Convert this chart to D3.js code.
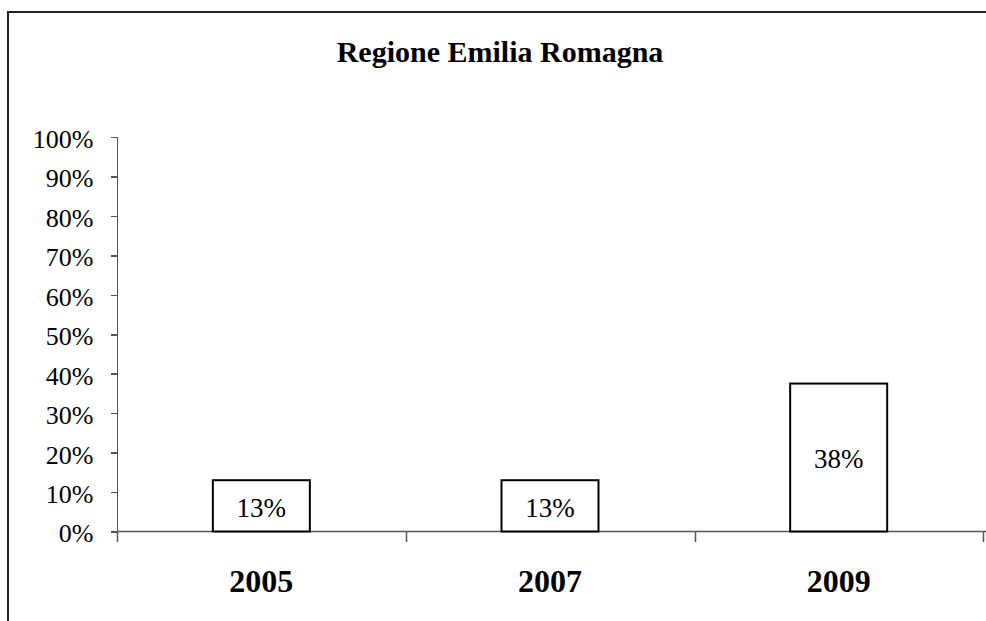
<!DOCTYPE html>
<meta charset="utf-8">
<style>
body { margin: 0; background: #fff; }
text { font-family: "Liberation Serif", "Times New Roman", serif; fill: #000; }
.axis path, .axis line { stroke: #555; stroke-width: 1.5px; shape-rendering: crispEdges; }
.bar { fill: #fff; stroke: #000; stroke-width: 2px; }
</style>
<body>
<div id="chart"></div>
<script src="https://d3js.org/d3.v7.min.js"></script>
<script>

// data
var years = ["2005", "2007", "2009"];
var values = [0.13, 0.13, 0.375];
var valueLabels = ["13%", "13%", "38%"];
var yTicks = [0, 0.1, 0.2, 0.3, 0.4, 0.5, 0.6, 0.7, 0.8, 0.9, 1];
var title = "Regione Emilia Romagna";

var W = 986, H = 621;

var svg = d3.select("#chart").append("svg")
    .attr("width", W)
    .attr("height", H);

// outer frame (runs off the right and bottom edge)
svg.append("rect")
    .attr("x", 8)
    .attr("y", 12)
    .attr("width", 1000)
    .attr("height", 700)
    .attr("fill", "none")
    .attr("stroke", "#222")
    .attr("stroke-width", 2);

var x = d3.scaleBand().domain(years).range([117, 983]).paddingInner(0.664).paddingOuter(0.332);
var y = d3.scaleLinear().domain([0, 1]).range([531.5, 137]);

// title
svg.append("text")
    .attr("x", 500)
    .attr("y", 62)
    .attr("text-anchor", "middle")
    .style("font-weight", "bold")
    .style("font-size", "30px")
    .text(title);

// y axis
var gy = svg.append("g")
    .attr("class", "axis")
    .attr("transform", "translate(117.5,0)")
    .call(d3.axisLeft(y).tickValues(yTicks).tickSize(7).tickSizeOuter(0).tickFormat(d3.format(".0%")));
gy.select(".domain").attr("d", "M0," + y(1) + "V542");
gy.selectAll(".tick text")
    .attr("x", -24)
    .attr("dy", "0.4em")
    .style("font-size", "26px")
    .style("font-family", "Liberation Serif");

// x axis: baseline + boundary ticks
var bounds = [117, 406, 695, 983];
svg.append("line")
    .attr("x1", 117).attr("x2", 986)
    .attr("y1", y(0)).attr("y2", y(0))
    .attr("stroke", "#555").attr("stroke-width", 1.5);
svg.selectAll(".xtick")
    .data(bounds)
    .enter().append("line")
    .attr("x1", function(d) { return d + 0.5; })
    .attr("x2", function(d) { return d + 0.5; })
    .attr("y1", y(0))
    .attr("y2", 542)
    .attr("stroke", "#555").attr("stroke-width", 1.5);

// bars
svg.selectAll(".bar")
    .data(values)
    .enter().append("rect")
    .attr("class", "bar")
    .attr("x", function(d, i) { return x(years[i]); })
    .attr("y", function(d) { return y(d); })
    .attr("width", x.bandwidth())
    .attr("height", function(d) { return y(0) - y(d); });

// value labels
svg.selectAll(".vlabel")
    .data(values)
    .enter().append("text")
    .attr("x", function(d, i) { return x(years[i]) + x.bandwidth() / 2; })
    .attr("y", function(d) { return (y(d) + y(0)) / 2; })
    .attr("dy", "0.4em")
    .attr("text-anchor", "middle")
    .style("font-size", "27px")
    .text(function(d, i) { return valueLabels[i]; });

// category labels
svg.selectAll(".clabel")
    .data(years)
    .enter().append("text")
    .attr("x", function(d) { return x(d) + x.bandwidth() / 2; })
    .attr("y", 592)
    .attr("text-anchor", "middle")
    .style("font-weight", "bold")
    .style("font-size", "32px")
    .text(function(d) { return d; });

</script>
</body>
